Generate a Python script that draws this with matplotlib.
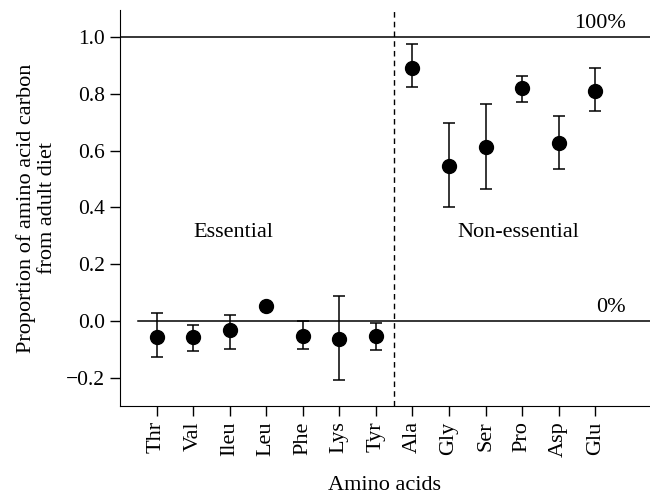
import matplotlib
matplotlib.use("Agg")
import matplotlib.pyplot as plt
import numpy as np

plt.rcParams['font.family'] = ['Liberation Serif', 'DejaVu Serif']

amino_acids = ["Thr", "Val", "Ileu", "Leu", "Phe", "Lys", "Tyr",
               "Ala", "Gly", "Ser", "Pro", "Asp", "Glu"]
proportion = [-0.057, -0.056, -0.034, 0.053, -0.053, -0.063, -0.053,
              0.892, 0.547, 0.613, 0.819, 0.627, 0.809]
err_upper = [0.026, -0.014, 0.021, 0.053, -0.001, 0.089, -0.009,
             0.975, 0.698, 0.764, 0.863, 0.721, 0.892]
err_lower = [-0.128, -0.105, -0.100, 0.053, -0.099, -0.209, -0.102,
             0.823, 0.400, 0.466, 0.770, 0.536, 0.739]
yticks = [-0.2, 0.0, 0.2, 0.4, 0.6, 0.8, 1.0]
ytick_labels = ["\u22120.2", "0.0", "0.2", "0.4", "0.6", "0.8", "1.0"]

fig = plt.figure(figsize=(6.5, 4.95), dpi=100)
ax = fig.add_axes([0.1846, 0.1798, 0.8154, 0.80])

x = np.arange(len(amino_acids))
y = np.array(proportion)
yerr = np.vstack([y - np.array(err_lower), np.array(err_upper) - y])
ax.errorbar(x, y, yerr=yerr, fmt='o', color='black', markersize=10,
            capsize=4.3, elinewidth=1.1, capthick=1.1, zorder=3)

ax.axhline(1.0, color='black', linewidth=1.1)
ax.plot([-0.5, 13.5], [0, 0], color='black', linewidth=1.1)
ax.axvline(6.5, color='black', linewidth=1, linestyle=(0, (4, 3)))

ax.text(2.1, 0.31, "Essential", ha='center', va='center', fontsize=16)
ax.text(9.9, 0.31, "Non-essential", ha='center', va='center', fontsize=16)
ax.text(12.85, 1.015, "100%", ha='right', va='bottom', fontsize=16)
ax.text(12.85, 0.015, "0%", ha='right', va='bottom', fontsize=16)

ax.set_xlim(-1.0, 13.5)
ax.set_ylim(-0.30, 1.095)
ax.set_xticks(x)
ax.set_xticklabels(amino_acids, rotation=90, fontsize=16)
ax.set_yticks(yticks)
ax.set_yticklabels(ytick_labels, fontsize=15.5)
ax.tick_params(direction='out', length=7, width=1, pad=4)
ax.spines['top'].set_visible(False)
ax.spines['right'].set_visible(False)
ax.set_xlabel("Amino acids", fontsize=16, labelpad=14)
ax.set_ylabel("Proportion of amino acid carbon\nfrom adult diet", fontsize=16,
              labelpad=6, linespacing=1.15)

fig.savefig("out.png", dpi=100)
